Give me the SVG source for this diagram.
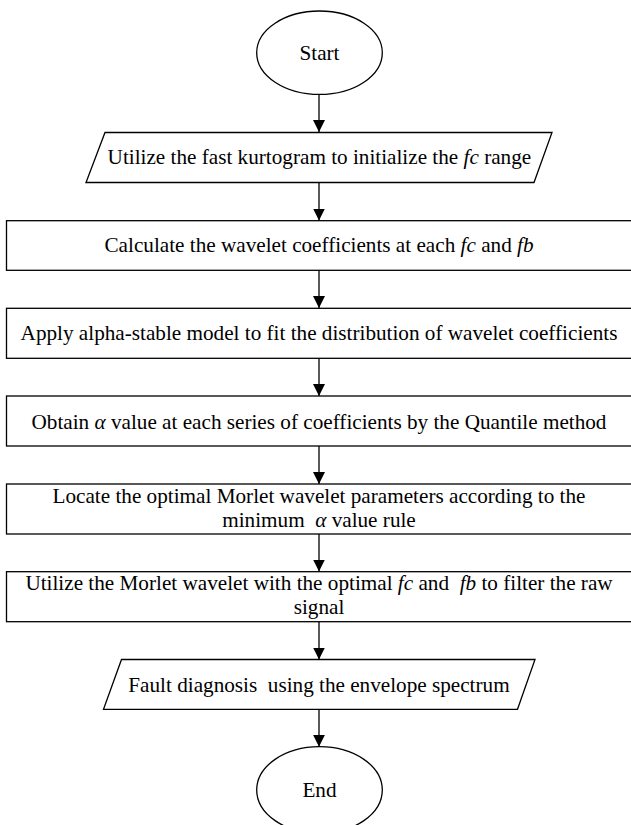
<svg xmlns="http://www.w3.org/2000/svg" width="631" height="825" viewBox="0 0 631 825">
<defs>
<marker id="ah" markerWidth="12" markerHeight="12" viewBox="0 0 12 12" refX="12" refY="6" orient="auto" markerUnits="userSpaceOnUse">
<path d="M0,0 L12,6 L0,12 Z" fill="#000"/>
</marker>
</defs>
<style>
.s{fill:#fff;stroke:#000;stroke-width:1.3}
.t{font-family:"Liberation Serif","Times New Roman",serif;font-size:21.2px;fill:#000;text-anchor:middle;white-space:pre}
.i{font-style:italic}
.c{stroke:#000;stroke-width:1.3;fill:none;marker-end:url(#ah)}
</style>
<rect width="631" height="825" fill="#fff"/>
<g id="connectors">
<line class="c" x1="319" y1="94.5" x2="319" y2="132"/>
<line class="c" x1="319" y1="182.7" x2="319" y2="220.5"/>
<line class="c" x1="319" y1="270.3" x2="319" y2="308"/>
<line class="c" x1="319" y1="358.3" x2="319" y2="396"/>
<line class="c" x1="319" y1="446" x2="319" y2="484"/>
<line class="c" x1="319" y1="534" x2="319" y2="571.5"/>
<line class="c" x1="319" y1="621.7" x2="319" y2="659.5"/>
<line class="c" x1="319" y1="709.3" x2="319" y2="746.7"/>
</g>
<g id="start">
<ellipse class="s" cx="319.5" cy="52.7" rx="62.8" ry="41.7"/>
<text class="t" x="319.5" y="60">Start</text>
</g>
<g id="init">
<polygon class="s" points="105,132.5 552,132.5 534,182.5 86,182.5"/>
<text class="t" x="319.4" y="164">Utilize the fast kurtogram to initialize the <tspan class="i">fc</tspan> range</text>
</g>
<g id="calc">
<rect class="s" x="6.5" y="220.7" width="626" height="49.6"/>
<text class="t" x="319" y="252">Calculate the wavelet coefficients at each <tspan class="i">fc</tspan> and <tspan class="i">fb</tspan></text>
</g>
<g id="fit">
<rect class="s" x="6.5" y="308.3" width="626" height="50"/>
<text class="t" x="319" y="340">Apply alpha-stable model to fit the distribution of wavelet coefficients</text>
</g>
<g id="alpha">
<rect class="s" x="6.5" y="396" width="626" height="50"/>
<text class="t" x="319" y="428.5">Obtain <tspan class="i">α</tspan> value at each series of coefficients by the Quantile method</text>
</g>
<g id="locate">
<rect class="s" x="6.5" y="484" width="626" height="50"/>
<text class="t" x="319" y="503">Locate the optimal Morlet wavelet parameters according to the</text>
<text class="t" x="319" y="526.5">minimum  <tspan class="i">α</tspan> value rule</text>
</g>
<g id="filter">
<rect class="s" x="6.5" y="571.7" width="626" height="50"/>
<text class="t" x="319" y="590">Utilize the Morlet wavelet with the optimal <tspan class="i">fc</tspan> and  <tspan class="i">fb</tspan> to filter the raw</text>
<text class="t" x="319" y="613.5">signal</text>
</g>
<g id="diagnosis">
<polygon class="s" points="121.5,659.5 535,659.5 517.5,709.3 103.5,709.3"/>
<text class="t" x="319" y="691.5">Fault diagnosis  using the envelope spectrum</text>
</g>
<g id="end">
<ellipse class="s" cx="319.5" cy="790" rx="62.8" ry="43.3"/>
<text class="t" x="319.5" y="797">End</text>
</g>
</svg>
